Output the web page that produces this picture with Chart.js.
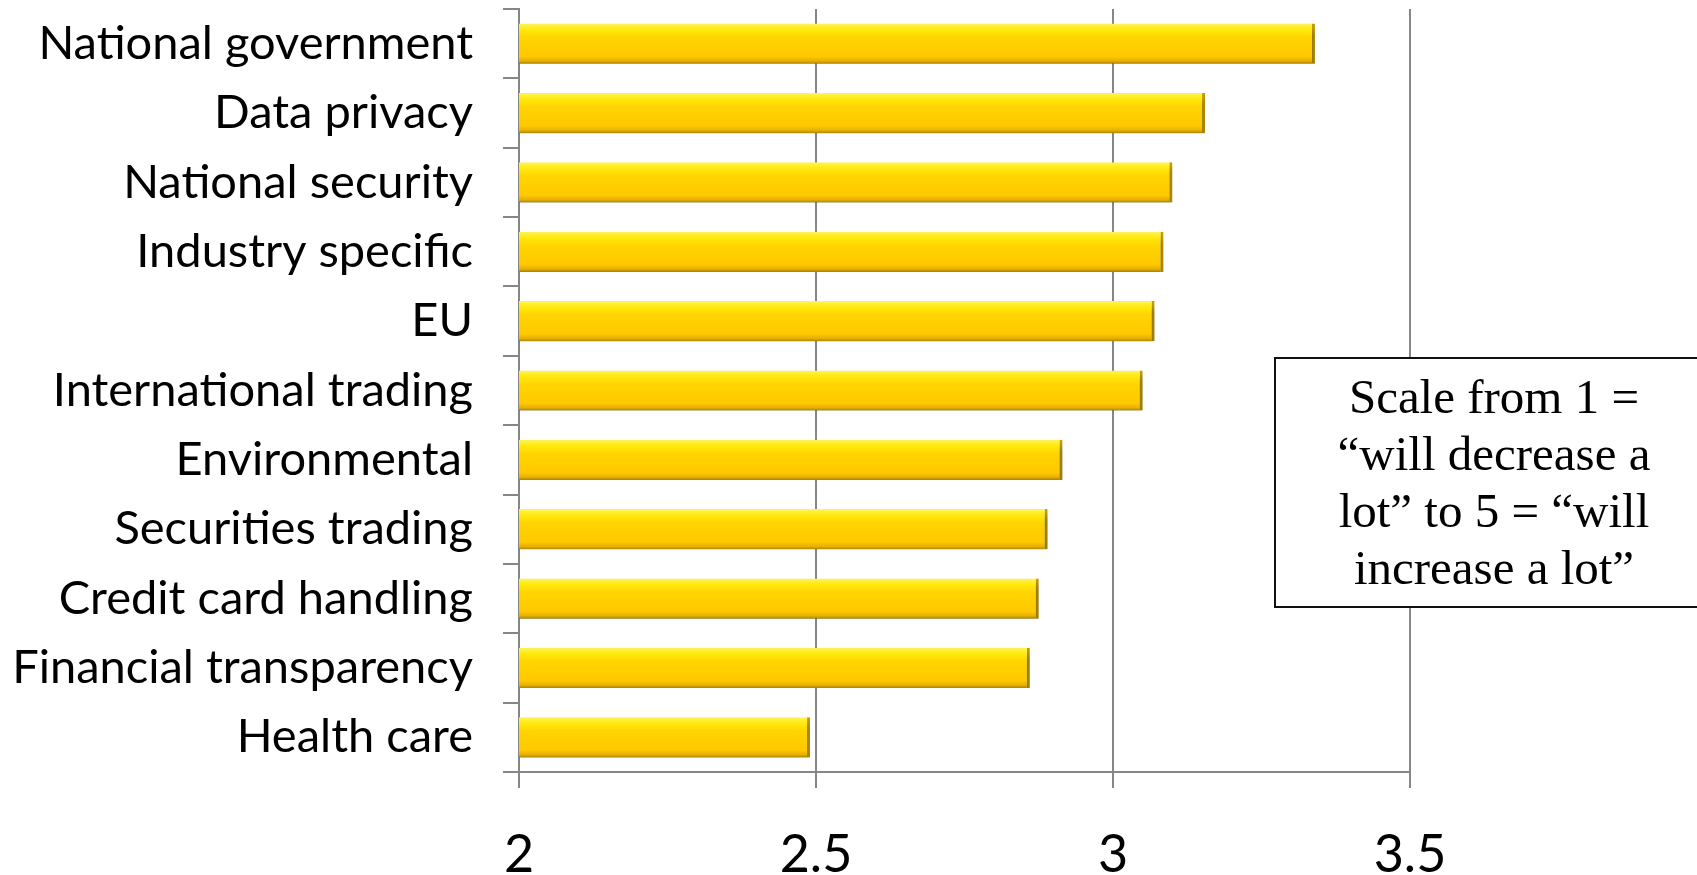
<!DOCTYPE html>
<html lang="en">

<head>
    <meta charset="UTF-8">
    <script src="https://cdn.jsdelivr.net/npm/chart.js@4"></script>
    <title>Regulation outlook</title>
    <style>
        body { margin: 0; overflow: hidden; background: #fff; }
        #wrap { position: relative; width: 1697px; height: 875px; overflow: hidden; }
        #myChart { display: block; }
        #note {
            position: absolute; left: 1274px; top: 357px; width: 440px; height: 251px;
            border: 2px solid #111; box-sizing: border-box; background: #fff;
            font-family: "Liberation Serif", "Times New Roman", serif; font-size: 49px;
            line-height: 57px; text-align: center; padding-top: 9px; color: #000;
        }
    </style>
</head>

<body>
    <div id="wrap">
        <canvas id="myChart" width="1697" height="875"></canvas>
        <div id="note">Scale from 1 =<br>“will decrease a<br>lot” to 5 = “will<br>increase a lot”</div>
    </div>
</body>

<script type='text/javascript'>

    const categories = ['National government', 'Data privacy', 'National security', 'Industry specific', 'EU',
        'International trading', 'Environmental', 'Securities trading', 'Credit card handling',
        'Financial transparency', 'Health care']
    const values = [3.34, 3.155, 3.10, 3.085, 3.07, 3.05, 2.915, 2.89, 2.875, 2.86, 2.49]
    const xTicks = [2, 2.5, 3, 3.5]

    // gold bevel look, gradient built per bar from the category scale
    goldFill = (c) => {
        const chart = c.chart
        const y = chart.scales.y
        if (!y || !y.height || c.dataIndex === undefined) return '#FFCC00'
        const mid = y.getPixelForValue(c.dataIndex)
        const half = (y.height / categories.length) * 0.58 / 2
        const g = chart.ctx.createLinearGradient(0, mid - half, 0, mid + half)
        g.addColorStop(0, '#FFF45A')
        g.addColorStop(0.14, '#FFEA10')
        g.addColorStop(0.35, '#FFD400')
        g.addColorStop(0.82, '#FFC800')
        g.addColorStop(0.93, '#E6B000')
        g.addColorStop(1, '#A88300')
        return g
    }

    const shadow = {
        id: 'shadow',
        beforeDatasetsDraw(chart) {
            const ctx = chart.ctx
            ctx.save()
            ctx.shadowColor = 'rgba(0,0,0,0.35)'
            ctx.shadowBlur = 7
            ctx.shadowOffsetX = 2
            ctx.shadowOffsetY = 6
        },
        afterDatasetsDraw(chart) {
            chart.ctx.restore()
        }
    }

    // no extra label padding, the chart area is placed by hand
    noPad = (s) => {
        s.paddingTop = 0
        s.paddingBottom = 0
        s.paddingLeft = 0
        s.paddingRight = 0
    }

    var ctx = document.getElementById('myChart').getContext('2d');
    var chart = new Chart(ctx, {
        type: 'bar',
        data: {
            labels: categories,
            datasets: [{
                data: values,
                backgroundColor: goldFill,
                borderColor: '#C99E00',
                borderWidth: { top: 0, right: 3, bottom: 0, left: 0 },
                borderSkipped: false,
                categoryPercentage: 1,
                barPercentage: 0.58
            }]
        },
        plugins: [shadow],
        options: {
            indexAxis: 'y',
            responsive: false,
            animation: false,
            devicePixelRatio: 1,
            layout: { padding: { top: 9, right: 287, left: 0, bottom: 0 } },
            plugins: { legend: { display: false }, tooltip: { enabled: false } },
            scales: {
                x: {
                    min: 2,
                    max: 3.5,
                    afterBuildTicks: (s) => { s.ticks = xTicks.map(v => ({ value: v })) },
                    afterFit: (s) => { s.height = 103; noPad(s) },
                    border: { color: '#868686', width: 2 },
                    grid: { color: '#868686', lineWidth: 2, tickLength: 16 },
                    ticks: {
                        color: '#000',
                        padding: 36,
                        font: { family: 'Lato', size: 52 },
                        callback: (v) => String(v)
                    }
                },
                y: {
                    afterFit: (s) => { s.width = 519; noPad(s) },
                    border: { color: '#868686', width: 2 },
                    grid: { offset: true, drawOnChartArea: false, color: '#868686', lineWidth: 2, tickLength: 16 },
                    ticks: {
                        color: '#000',
                        padding: 30,
                        font: { family: 'Lato', size: 47 }
                    }
                }
            }
        }
    });

</script>

</html>
